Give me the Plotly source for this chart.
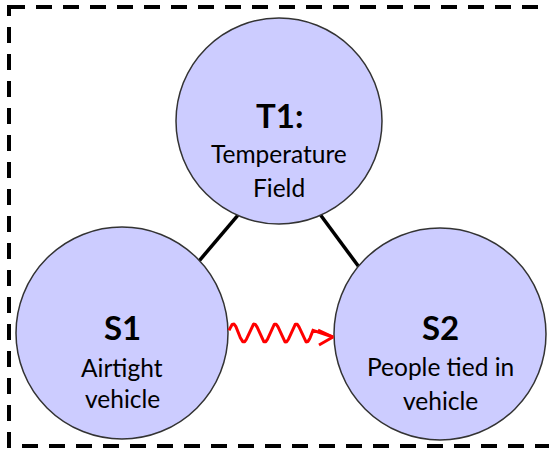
import numpy as np
import plotly.graph_objects as go

# ---- diagram data ----
node_ids = ["T1", "S1", "S2"]
node_titles = ["T1:", "S1", "S2"]
node_lines = [["Temperature", "Field"], ["Airtight", "vehicle"], ["People tied in", "vehicle"]]
node_x = [279, 122, 440]
node_y = [121, 333, 334]
node_r = [103, 106, 106]
edge_from = ["T1", "T1"]
edge_to = ["S1", "S2"]
edge_from_angle = [113.6, 66.1]    # attachment angle on source circle (deg, screen coords)
edge_to_angle = [-43.1, -140.3]    # attachment angle on target circle
interaction = ("S1", "S2")

W, H = 549, 452
FILL = "#CCCCFF"
FONT = "Lato"

fig = go.Figure()
shapes = []
annotations = []

# dashed frame
shapes.append(dict(type="rect", xref="x", yref="y", x0=9, y0=7, x1=560, y1=446,
                   line=dict(color="black", width=4, dash="16px,11px"), fillcolor="rgba(0,0,0,0)", layer="below"))

idx = {n: i for i, n in enumerate(node_ids)}

# edges
for a, b, fa, ta in zip(edge_from, edge_to, edge_from_angle, edge_to_angle):
    i, j = idx[a], idx[b]
    x0 = node_x[i] + node_r[i] * np.cos(np.radians(fa))
    y0 = node_y[i] + node_r[i] * np.sin(np.radians(fa))
    x1 = node_x[j] + node_r[j] * np.cos(np.radians(ta))
    y1 = node_y[j] + node_r[j] * np.sin(np.radians(ta))
    shapes.append(dict(type="line", xref="x", yref="y", x0=x0, y0=y0, x1=x1, y1=y1,
                       line=dict(color="black", width=3.5), layer="below"))

# circles
for i in range(len(node_ids)):
    shapes.append(dict(type="circle", xref="x", yref="y",
                       x0=node_x[i] - node_r[i], x1=node_x[i] + node_r[i],
                       y0=node_y[i] - node_r[i], y1=node_y[i] + node_r[i],
                       fillcolor=FILL, line=dict(color="#333333", width=1.5), layer="below"))

# labels
title_dy = [-6, -6, -7]
line_dys = [[32, 66], [34, 65], [32, 66]]
for i in range(len(node_ids)):
    annotations.append(dict(x=node_x[i], y=node_y[i] + title_dy[i], xref="x", yref="y",
                            text="<b>" + node_titles[i] + "</b>", showarrow=False,
                            font=dict(family=FONT, size=33, color="black")))
    for k, t in enumerate(node_lines[i]):
        annotations.append(dict(x=node_x[i], y=node_y[i] + line_dys[i][k], xref="x", yref="y",
                                text=t, showarrow=False,
                                font=dict(family=FONT, size=24.5, color="black")))

# wavy interaction arrow S1 -> S2
a, b = idx[interaction[0]], idx[interaction[1]]
xs = node_x[a] + node_r[a] + 1
xe = xs + 4 * 21.0
t = np.linspace(xs, xe, 300)
wy = 333 - 9 * np.sin(2 * np.pi * (t - xs) / 21.0 + 0.3)
tip_x = node_x[b] - node_r[b] - 1
wx = list(t) + [tip_x]
wy = list(wy) + [337]
fig.add_trace(go.Scatter(x=wx, y=wy, mode="lines", line=dict(color="red", width=3),
                         hoverinfo="skip", showlegend=False))
fig.add_trace(go.Scatter(x=[tip_x - 15, tip_x, tip_x - 14], y=[330, 337, 345], mode="lines",
                         line=dict(color="red", width=3), hoverinfo="skip", showlegend=False))

fig.update_layout(
    width=W, height=H, margin=dict(l=0, r=0, t=0, b=0),
    paper_bgcolor="white", plot_bgcolor="white",
    xaxis=dict(range=[0, W], visible=False, fixedrange=True),
    yaxis=dict(range=[H, 0], visible=False, fixedrange=True),
    shapes=shapes, annotations=annotations, showlegend=False,
)
fig.write_html("out.html", config={"displayModeBar": False},
               post_script="document.body.style.margin='0px';document.body.style.overflow='hidden';")
